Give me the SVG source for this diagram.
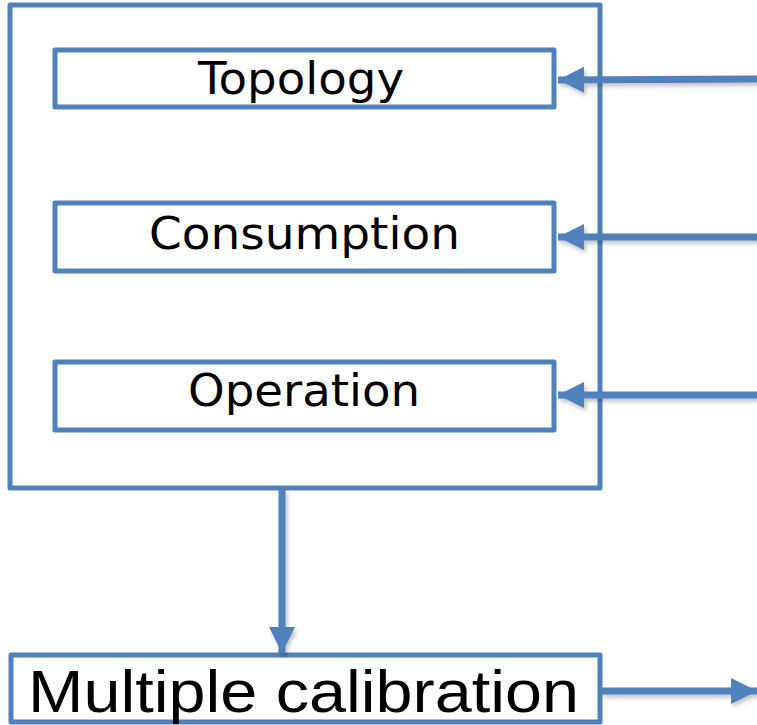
<svg xmlns="http://www.w3.org/2000/svg" width="757" height="725" viewBox="0 0 757 725">
<style>
.box{fill:#fff;stroke:#4F81BD;stroke-width:5;stroke-linejoin:round}
.lbl{font-family:"DejaVu Sans",Verdana,sans-serif;font-size:44px;fill:#000}
.big{font-family:"Liberation Sans",Arial,sans-serif;font-size:60px;fill:#000}
.conn{stroke:#4F81BD;stroke-width:7;fill:none}
</style>
<defs>
<marker id="ah" markerUnits="userSpaceOnUse" markerWidth="30" markerHeight="28" refX="26" refY="14" orient="auto">
<path d="M0,1 L26,14 L0,27 Z" fill="#4F81BD"/>
</marker>
<filter id="sh" x="-10%" y="-50%" width="120%" height="200%">
<feDropShadow dx="2" dy="3" stdDeviation="2" flood-color="#000" flood-opacity="0.25"/>
</filter>
</defs>
<g id="outer"><rect class="box" x="10" y="5" width="590" height="483"/></g>
<g id="topology"><rect class="box" x="55" y="50" width="499" height="57"/><text class="lbl" x="198" y="94" textLength="206" lengthAdjust="spacingAndGlyphs">Topology</text></g>
<g id="consumption"><rect class="box" x="55" y="203" width="499" height="68"/><text class="lbl" x="149" y="249" textLength="311" lengthAdjust="spacingAndGlyphs">Consumption</text></g>
<g id="operation"><rect class="box" x="55" y="362" width="499" height="68"/><text class="lbl" x="188" y="406" textLength="232" lengthAdjust="spacingAndGlyphs">Operation</text></g>
<g id="multiple"><rect class="box" x="11" y="655" width="589" height="67"/><text class="big" x="28" y="712" textLength="551" lengthAdjust="spacingAndGlyphs">Multiple calibration</text></g>
<g id="connectors" filter="url(#sh)">
<line class="conn" x1="757" y1="79" x2="558" y2="80" marker-end="url(#ah)"/>
<line class="conn" x1="757" y1="237" x2="558" y2="237" marker-end="url(#ah)"/>
<line class="conn" x1="757" y1="395" x2="558" y2="395" marker-end="url(#ah)"/>
<line class="conn" x1="282" y1="490" x2="282" y2="653" marker-end="url(#ah)"/>
<line class="conn" x1="602" y1="691" x2="757" y2="691" marker-end="url(#ah)"/>
</g>
</svg>
